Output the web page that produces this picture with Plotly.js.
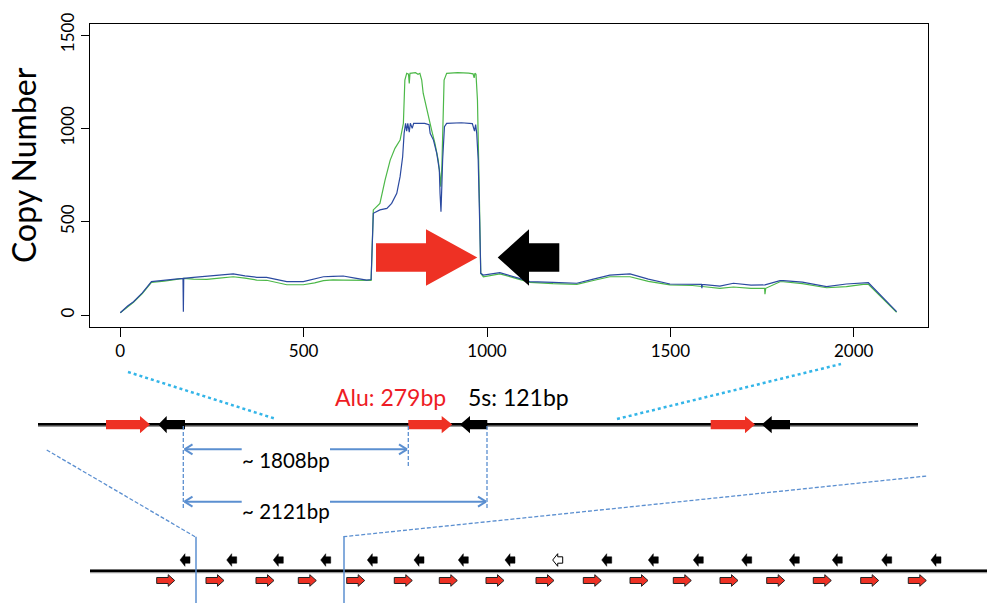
<!DOCTYPE html>
<html><head><meta charset="utf-8">
<script src="https://cdn.plot.ly/plotly-3.0.1.min.js"></script>
<style>html,body{margin:0;padding:0;background:#fff}#chart{width:987px;height:603px}</style>
</head><body><div id="chart"></div>
<script>
// ---- Data ----
const greenPos = [0,20,36,60,85,120,150,172,200,236,270,308,340,372,399,430,454,499,530,554,580,608,640,672,684,
  690,708,722,736,749,763,772,776,781,786,788,790,805,812,817,822,826,836,849,858,867,871,874,877,879,883,890,920,950,962,965,967,970,974,979,983,
  990,1035,1081,1117,1180,1245,1290,1335,1390,1440,1499,1560,1600,1635,1672,1720,1757,1758,1760,1799,1808,1860,1926,1980,2026,2040,2117];
const greenCopies = [12,45,68,115,175,182,190,196,192,191,198,205,198,187,186,172,162,162,172,184,188,187,185,184,186,
  563,598,723,830,893,937,1027,1259,1295,1290,1241,1295,1298,1290,1295,1259,1188,1098,991,920,830,760,687,800,1009,1259,1295,1298,1296,1292,1270,1295,1290,1152,652,223,
  205,220,195,175,168,164,185,205,205,180,161,158,150,143,150,143,143,112,143,178,178,168,146,152,164,164,15];

const bluePos = [0,20,36,60,85,120,150,171,172,173,200,236,270,308,340,372,399,430,454,499,530,554,580,608,640,672,684,
  690,708,727,740,754,763,770,774,778,781,784,788,791,796,800,830,842,845,854,863,870,872,874.5,877,879,884,890,930,960,966,969,972,976,980,983,
  990,1035,1081,1117,1180,1245,1290,1335,1390,1440,1499,1560,1585,1586,1587,1635,1672,1720,1758,1799,1808,1860,1926,1980,2026,2040,2117];
const blueCopies = [12,48,71,118,179,184,192,196,18,196,202,209,214,220,210,202,202,190,179,179,192,205,207,209,198,187,190,
  545,563,571,598,652,741,848,973,1027,985,1027,980,1027,1000,1027,1027,1020,973,937,866,777,650,553,700,830,1009,1027,1030,1025,985,1020,973,830,500,223,
  214,227,200,179,175,170,192,214,220,192,166,164,164,143,164,155,170,160,161,184,184,176,152,166,173,173,18];

const xTicks = [0,500,1000,1500,2000];
const yTicks = [0,500,1000,1500];

// diagram labels
const aluLabel = 'Alu: 279bp';
const fiveSLabel = '5s: 121bp';
const dist1Label = '~ 1808bp';
const dist2Label = '~ 2121bp';

// ---- Diagram helpers (pixel -> paper) ----
const W = 987, H = 603;
const X = p => p / W, Y = p => 1 - p / H;
function seg(x0, y0, x1, y1, color, width, dash) {
  return {type:'line', xref:'paper', yref:'paper', x0:X(x0), y0:Y(y0), x1:X(x1), y1:Y(y1),
    line:{color:color, width:width, dash:dash || 'solid'}, layer:'above'};
}
function poly(pts, fill, lc, lw) {
  const path = 'M' + pts.map(p => X(p[0]).toFixed(5) + ',' + Y(p[1]).toFixed(5)).join(' L') + ' Z';
  return {type:'path', xref:'paper', yref:'paper', path:path, fillcolor:fill,
    line:{color:lc || fill, width:lw || 0}, layer:'above'};
}
function rightArrow(x0, hb, tip, yc, bh, hh, fill, lc, lw) {
  return poly([[x0,yc-bh],[hb,yc-bh],[hb,yc-hh],[tip,yc],[hb,yc+hh],[hb,yc+bh],[x0,yc+bh]], fill, lc, lw);
}
function leftArrow(tip, hb, x1, yc, bh, hh, fill, lc, lw) {
  return poly([[tip,yc],[hb,yc-hh],[hb,yc-bh],[x1,yc-bh],[x1,yc+bh],[hb,yc+bh],[hb,yc+hh]], fill, lc, lw);
}
const RED = '#ee3124', BLUE_D = '#5b8fd0', CYAN = '#33b5e8';
const DASH = '4px,2px';
const shapes = [];

// big arrows inside plot
shapes.push(rightArrow(376, 426, 477.3, 257.5, 14.2, 28.3, RED));
shapes.push(leftArrow(497.7, 529, 559.3, 257.5, 14.2, 28.3, '#000'));

// middle track
shapes.push(seg(38, 425.2, 918, 425.2, '#9a9a9a', 3.5));
shapes.push(seg(38, 424.3, 918, 424.3, '#000', 2.5));
[[106,140,150],[408.3,441.7,452.3],[710.7,745,755]].forEach(a => shapes.push(rightArrow(a[0],a[1],a[2],424.6,4.7,8.7,RED)));
[[158.3,166.7,185],[460,470,487.3],[761.7,771.7,790]].forEach(a => shapes.push(leftArrow(a[0],a[1],a[2],424.6,4.7,8.7,'#000')));

// dotted zoom lines
shapes.push(seg(128, 372, 276, 419, CYAN, 2.5, 'dot'));
shapes.push(seg(617, 419, 841, 364, CYAN, 2.5, 'dot'));
// dashed zoom lines
shapes.push(seg(46.7, 450, 195, 536.7, BLUE_D, 1.3, DASH));
shapes.push(seg(343.3, 536.7, 927, 476, BLUE_D, 1.3, DASH));
// vertical dashed markers
shapes.push(seg(183.3, 426, 183.3, 509, BLUE_D, 1.3, DASH));
shapes.push(seg(408.3, 426, 408.3, 468, BLUE_D, 1.3, DASH));
shapes.push(seg(487, 426, 487, 509, BLUE_D, 1.3, DASH));
// dimension arrows
function dim(xa, xb, y, gapA, gapB) {
  shapes.push(seg(xa, y, gapA, y, BLUE_D, 2));
  shapes.push(seg(gapB, y, xb, y, BLUE_D, 2));
  shapes.push(seg(xa, y, xa + 8, y - 5, BLUE_D, 2));
  shapes.push(seg(xa, y, xa + 8, y + 5, BLUE_D, 2));
  shapes.push(seg(xb, y, xb - 8, y - 5, BLUE_D, 2));
  shapes.push(seg(xb, y, xb - 8, y + 5, BLUE_D, 2));
}
dim(184.5, 407, 449.3, 241.7, 330);
dim(184.5, 486, 501.7, 241.7, 330);

// bottom track
shapes.push(seg(90, 571.5, 987, 571.5, '#9a9a9a', 3.5));
shapes.push(seg(90, 570.7, 987, 570.7, '#000', 2.5));
shapes.push(seg(196, 536.7, 196, 603, BLUE_D, 1.5));
shapes.push(seg(344, 536.7, 344, 603, BLUE_D, 1.5));
const blackTips = [180,226.7,273.3,320.7,367.3,414,458.3,505,552.7,601.7,648.3,693.3,741.7,789.3,832.3,881.7,931];
blackTips.forEach((t, i) => {
  const open = (i === 8);
  shapes.push(leftArrow(t, t + 5, t + 10, 560, 3.2, 6.3, open ? '#fff' : '#000', '#000', open ? 1 : 0.5));
});
const redStarts = [156.7,206,256,298.3,346.7,394.3,439.3,486,536,583.3,630,673.3,720,766.7,813.3,860.7,908.3];
redStarts.forEach(s => shapes.push(rightArrow(s, s + 11.5, s + 18, 580.5, 3, 5.8, RED, '#222', 1)));

// text annotations
const fontFam = 'Lato, "Open Sans", sans-serif';
function txt(t, px, py, size, color, angle) {
  return {text:t, xref:'paper', yref:'paper', x:X(px), y:Y(py), xanchor:'center', yanchor:'middle',
    showarrow:false, textangle:angle || 0, font:{family:fontFam, size:size, color:color || '#000'}};
}
const annotations = [
  txt('Copy Number', 24, 165, 32, '#000', -90),
  txt(aluLabel, 390, 397, 23, '#ee1c25'),
  txt(fiveSLabel, 518, 397, 23, '#000'),
  txt(dist1Label, 286, 459.5, 20.5, '#000'),
  txt(dist2Label, 286, 511, 20.5, '#000')
];

const traces = [
  {x: greenPos, y: greenCopies, type:'scatter', mode:'lines', line:{color:'#4cb848', width:1.2}, hoverinfo:'skip'},
  {x: bluePos, y: blueCopies, type:'scatter', mode:'lines', line:{color:'#2b4aa0', width:1.2}, hoverinfo:'skip'}
];

const layout = {
  width: W, height: H,
  margin: {l:0, r:0, t:0, b:0},
  paper_bgcolor:'#fff', plot_bgcolor:'#fff',
  showlegend:false,
  xaxis: {domain:[90/W, 928/W], range:[-82.6, 2202.6], tickvals:xTicks, ticktext:xTicks.map(String),
    ticks:'outside', ticklen:9, tickwidth:1, tickcolor:'#000', showline:true, mirror:true, linecolor:'#000', linewidth:1,
    showgrid:false, zeroline:false, tickfont:{family:fontFam, size:17, color:'#000'}},
  yaxis: {domain:[1 - 327/H, 1 - 24/H], range:[-64.3, 1559], tickvals:yTicks, ticktext:yTicks.map(String),
    tickangle:-90, ticks:'outside', ticklen:8, tickwidth:1, tickcolor:'#000', showline:true, mirror:true, linecolor:'#000', linewidth:1,
    showgrid:false, zeroline:false, tickfont:{family:fontFam, size:17, color:'#000'}},
  shapes: shapes,
  annotations: annotations
};
Plotly.newPlot('chart', traces, layout, {displayModeBar:false, staticPlot:true});
</script>
</body></html>
